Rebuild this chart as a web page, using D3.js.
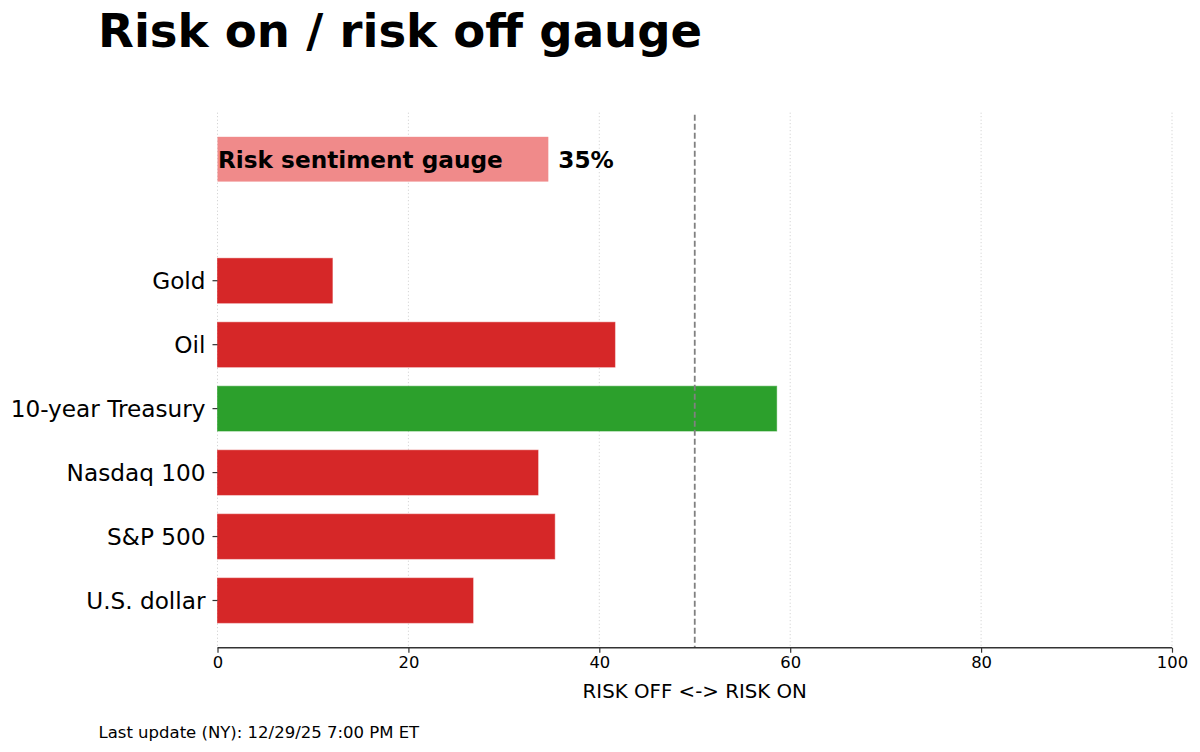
<!DOCTYPE html>
<html>
<head>
<meta charset="utf-8">
<script src="https://cdn.jsdelivr.net/npm/d3@7"></script>
<style>
  html, body { margin: 0; padding: 0; background: #fff; }
  svg { display: block; font-family: "DejaVu Sans", sans-serif; }
</style>
</head>
<body>
<svg id="chart" width="1200" height="752"></svg>
<script>
// ---- data ----
const categories = ["U.S. dollar", "S&P 500", "Nasdaq 100", "10-year Treasury", "Oil", "Gold"];
const values = [26.77, 35.33, 33.58, 58.58, 41.64, 12.03];
const riskOn = [false, false, false, true, false, false];
const gaugeLabel = "Risk sentiment gauge";
const gaugeValue = 34.66;
const xTicks = [0, 20, 40, 60, 80, 100];
const threshold = 50;
const titleText = "Risk on / risk off gauge";
const xLabelText = "RISK OFF <-> RISK ON";
const footerText = "Last update (NY): 12/29/25 7:00 PM ET";

// ---- layout ----
const svg = d3.select("#chart");
const mLeft = 217.5, mRight = 1172, mTop = 112.7, mBottom = 647.7;
const gaugePos = 6.9;
const barH = 0.7;

const x = d3.scaleLinear().domain([0, 100]).range([mLeft, mRight]);
const y = d3.scaleLinear().domain([-0.738, 7.627]).range([mBottom, mTop]);
const hPx = y(0) - y(barH);

// grid
svg.append("g").selectAll("line").data(xTicks).join("line")
  .attr("x1", d => x(d)).attr("x2", d => x(d))
  .attr("y1", mTop).attr("y2", mBottom)
  .attr("stroke", "#cccccc").attr("stroke-width", 1)
  .attr("stroke-dasharray", "1,2.5");

// category bars
const rows = categories.map((c, i) => ({ c, v: values[i], on: riskOn[i], i }));
svg.append("g").selectAll("rect").data(rows).join("rect")
  .attr("x", x(0))
  .attr("y", d => y(d.i + barH / 2))
  .attr("width", d => x(d.v) - x(0))
  .attr("height", hPx)
  .attr("fill", d => d.on ? "#2ca02c" : "#d62728")
  .attr("stroke", d => d.on ? "#2ca02c" : "#d62728")
  .attr("stroke-opacity", 0.6)
  .attr("stroke-width", 1);

// gauge bar
svg.append("rect")
  .attr("x", x(0))
  .attr("y", y(gaugePos + barH / 2))
  .attr("width", x(gaugeValue) - x(0))
  .attr("height", hPx)
  .attr("fill", "#f08a8a");

svg.append("text")
  .attr("x", x(0) + 0.5)
  .attr("y", y(gaugePos))
  .attr("dy", "0.36em")
  .attr("font-size", 23.2).attr("font-weight", "bold").attr("fill", "#000")
  .text(gaugeLabel);

svg.append("text")
  .attr("x", x(gaugeValue) + 10)
  .attr("y", y(gaugePos))
  .attr("dy", "0.36em")
  .attr("font-size", 23.2).attr("font-weight", "bold").attr("fill", "#000")
  .text(Math.round(gaugeValue) + "%");

// threshold line
svg.append("line")
  .attr("x1", x(threshold)).attr("x2", x(threshold))
  .attr("y1", mTop + 2).attr("y2", mBottom)
  .attr("stroke", "#808080").attr("stroke-width", 1.8)
  .attr("stroke-dasharray", "6,3");

// x axis
const xAxis = d3.axisBottom(x).tickValues(xTicks).tickSize(5).tickPadding(4);
const gx = svg.append("g").attr("transform", `translate(0,${mBottom})`).call(xAxis);
gx.select(".domain").attr("stroke", "#333").attr("stroke-width", 1.6).attr("d", `M${mLeft},0H${mRight}`);
gx.selectAll(".tick line").attr("stroke", "#333").attr("stroke-width", 1.2);
gx.selectAll(".tick text").attr("font-size", 16.4).attr("fill", "#000")
  .attr("font-family", "DejaVu Sans");

// y axis (category ticks, no spine)
const gy = svg.append("g");
const yTick = gy.selectAll("g").data(rows).join("g")
  .attr("transform", d => `translate(0,${y(d.i)})`);
yTick.append("line").attr("x1", mLeft - 5).attr("x2", mLeft)
  .attr("stroke", "#333").attr("stroke-width", 1.2);
yTick.append("text")
  .attr("x", mLeft - 12).attr("dy", "0.36em")
  .attr("text-anchor", "end").attr("font-size", 23.2).attr("fill", "#000")
  .text(d => d.c);

// axis label
svg.append("text")
  .attr("x", (mLeft + mRight) / 2).attr("y", 697.7)
  .attr("text-anchor", "middle").attr("font-size", 19.8).attr("fill", "#000")
  .text(xLabelText);

// title
svg.append("text")
  .attr("x", 98).attr("y", 46.7)
  .attr("font-size", 46.6).attr("font-weight", "bold").attr("fill", "#000")
  .text(titleText);

// footer
svg.append("text")
  .attr("x", 98.5).attr("y", 737.7)
  .attr("font-size", 16.5).attr("fill", "#000")
  .text(footerText);
</script>
</body>
</html>
